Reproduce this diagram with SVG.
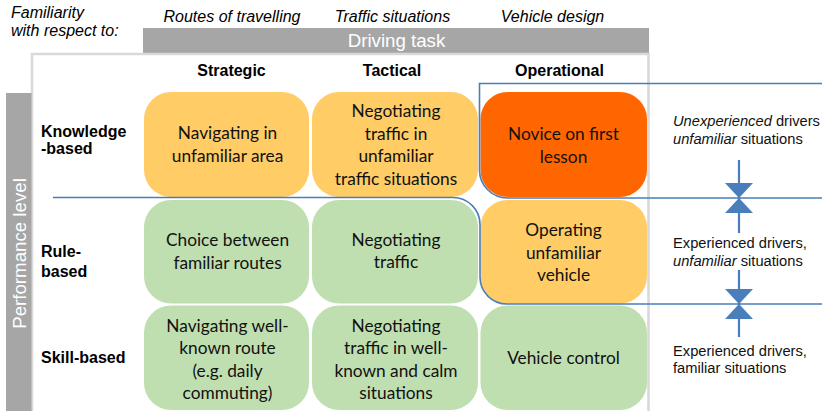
<svg xmlns="http://www.w3.org/2000/svg" width="822" height="411" viewBox="0 0 822 411">
<defs>
<style>
.lbl{font-family:"Liberation Sans",Arial,sans-serif;font-size:16px;fill:#000}
.it{font-style:italic}
.b{font-weight:bold}
.bx{font-family:Lato,"Liberation Sans",sans-serif;font-size:17.3px;fill:#111;text-anchor:middle}
.side{font-family:"Liberation Sans",Arial,sans-serif;font-size:14.7px;fill:#111}
.wt{font-family:"Liberation Sans",Arial,sans-serif;font-size:18.7px;fill:#fff}
.y{fill:#FFCC66}
.g{fill:#C0DFB0}
.o{fill:#FF6600}
.bl{fill:none;stroke:#4A7EBB;stroke-width:1.6}
.ar{fill:none;stroke:#4A7EBB;stroke-width:2.2}
</style>
<marker id="tri" viewBox="0 0 15 28" refX="15" refY="14" markerWidth="15" markerHeight="28" markerUnits="userSpaceOnUse" orient="auto">
<path d="M0,0 L15,14 L0,28 z" fill="#4A7EBB"/>
</marker>
</defs>
<rect width="822" height="411" fill="#fff"/>

<g id="header">
<text class="lbl it" x="11" y="18">Familiarity</text>
<text class="lbl it" x="11" y="36">with respect to:</text>
<text class="lbl it" x="232" y="22" text-anchor="middle">Routes of travelling</text>
<text class="lbl it" x="392.5" y="22" text-anchor="middle">Traffic situations</text>
<text class="lbl it" x="552.5" y="22" text-anchor="middle">Vehicle design</text>
</g>

<g id="driving-task">
<rect x="143" y="28" width="506" height="25" fill="#A6A6A6"/>
<text class="wt" x="396.5" y="47" text-anchor="middle">Driving task</text>
</g>

<g id="panel">
<path d="M32,411 V54 H648.5 V411" fill="none" stroke="#D9D9D9" stroke-width="2.6"/>
</g>

<g id="performance-level">
<rect x="6" y="93" width="25.5" height="318" fill="#A6A6A6"/>
<text class="wt" transform="translate(25.5,253.5) rotate(-90)" text-anchor="middle">Performance level</text>
</g>

<g id="col-headers">
<text class="lbl b" x="231.5" y="76" text-anchor="middle">Strategic</text>
<text class="lbl b" x="392" y="76" text-anchor="middle">Tactical</text>
<text class="lbl b" x="559.5" y="76" text-anchor="middle">Operational</text>
</g>

<g id="row-headers">
<text class="lbl b" x="41" y="137">Knowledge</text>
<text class="lbl b" x="41" y="154">-based</text>
<text class="lbl b" x="41" y="257">Rule-</text>
<text class="lbl b" x="41" y="277">based</text>
<text class="lbl b" x="41" y="363">Skill-based</text>
</g>

<g id="n-strategic-knowledge">
<rect class="y" x="144" y="92" width="165" height="105" rx="27"/>
<text class="bx" x="227.5" y="139">Navigating in</text>
<text class="bx" x="227.5" y="162">unfamiliar area</text>
</g>
<g id="n-tactical-knowledge">
<rect class="y" x="312" y="92" width="166" height="105" rx="27"/>
<text class="bx" x="396" y="117">Negotiating</text>
<text class="bx" x="396" y="139.5">traffic in</text>
<text class="bx" x="396" y="162">unfamiliar</text>
<text class="bx" x="396" y="184.5">traffic situations</text>
</g>
<g id="n-operational-knowledge">
<rect class="o" x="480.5" y="92" width="166.5" height="105" rx="27"/>
<text class="bx" x="563.5" y="140">Novice on first</text>
<text class="bx" x="563.5" y="162.5">lesson</text>
</g>

<g id="n-strategic-rule">
<rect class="g" x="144" y="200" width="165" height="103.5" rx="27"/>
<text class="bx" x="227.5" y="246">Choice between</text>
<text class="bx" x="227.5" y="268.5">familiar routes</text>
</g>
<g id="n-tactical-rule">
<rect class="g" x="312" y="200" width="166" height="103.5" rx="27"/>
<text class="bx" x="396" y="245.5">Negotiating</text>
<text class="bx" x="396" y="268">traffic</text>
</g>
<g id="n-operational-rule">
<rect class="y" x="480.5" y="200" width="166.5" height="103.5" rx="27"/>
<text class="bx" x="563.5" y="236">Operating</text>
<text class="bx" x="563.5" y="258.5">unfamiliar</text>
<text class="bx" x="563.5" y="281">vehicle</text>
</g>

<g id="n-strategic-skill">
<rect class="g" x="144" y="305.5" width="165" height="104.5" rx="27"/>
<text class="bx" x="227.5" y="331.5">Navigating well-</text>
<text class="bx" x="227.5" y="354">known route</text>
<text class="bx" x="227.5" y="376.5">(e.g. daily</text>
<text class="bx" x="227.5" y="399">commuting)</text>
</g>
<g id="n-tactical-skill">
<rect class="g" x="312" y="305.5" width="166" height="104.5" rx="27"/>
<text class="bx" x="396" y="331.5">Negotiating</text>
<text class="bx" x="396" y="354">traffic in well-</text>
<text class="bx" x="396" y="376.5">known and calm</text>
<text class="bx" x="396" y="399">situations</text>
</g>
<g id="n-operational-skill">
<rect class="g" x="480.5" y="305.5" width="166.5" height="104.5" rx="27"/>
<text class="bx" x="563.5" y="364">Vehicle control</text>
</g>

<g id="connectors">
<path class="bl" d="M822,83.5 H479.5 V170 A28,28 0 0 0 507.5,198 H822"/>
<path class="bl" d="M53,197.5 H453 A27,27 0 0 1 480,224.5 V277 A27,27 0 0 0 507,304 H822"/>
<line class="ar" x1="739" y1="160" x2="739" y2="198" marker-end="url(#tri)"/>
<line class="ar" x1="739" y1="233" x2="739" y2="198" marker-end="url(#tri)"/>
<line class="ar" x1="739" y1="270" x2="739" y2="304" marker-end="url(#tri)"/>
<line class="ar" x1="739" y1="337" x2="739" y2="304" marker-end="url(#tri)"/>
</g>

<g id="experience-labels">
<text class="side" x="673" y="126"><tspan class="it">Unexperienced</tspan> drivers</text>
<text class="side" x="673" y="143.5"><tspan class="it">unfamiliar</tspan> situations</text>
<text class="side" x="673" y="248">Experienced drivers,</text>
<text class="side" x="673" y="265.5"><tspan class="it">unfamiliar</tspan> situations</text>
<text class="side" x="673" y="355.5">Experienced drivers,</text>
<text class="side" x="673" y="373">familiar situations</text>
</g>
</svg>
